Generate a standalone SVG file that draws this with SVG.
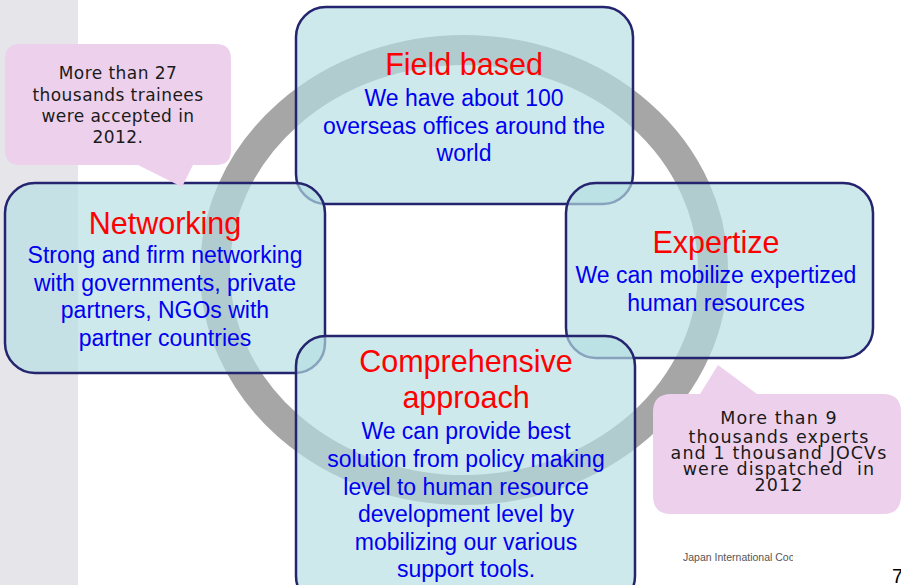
<svg xmlns="http://www.w3.org/2000/svg" width="901" height="585" viewBox="0 0 901 585">
<defs>
<style>
.box{fill:rgb(182,223,227);fill-opacity:0.68;stroke:#25256f;stroke-width:2.5}
.call{fill:#edd1ec}
.title{font-family:"Liberation Sans",Arial,sans-serif;font-size:30.5px;fill:#ff0000;text-anchor:middle}
.body{font-family:"Liberation Sans",Arial,sans-serif;font-size:23px;fill:#0000f0;text-anchor:middle}
.ct{font-family:"DejaVu Sans",Verdana,sans-serif;fill:#1a1a1a;text-anchor:middle}
</style>
<clipPath id="clipJ"><rect x="600" y="540" width="193" height="30"/></clipPath>
</defs>
<rect x="0" y="0" width="901" height="585" fill="#ffffff"/>
<rect x="0" y="0" width="78" height="585" fill="#e6e5ea"/>
<g id="ring">
<ellipse cx="464" cy="270" rx="249" ry="220" fill="none" stroke="#a6a6a6" stroke-width="30"/>
</g>
<g id="field">
<rect class="box" x="296" y="7" width="337" height="197" rx="30" ry="30"/>
<text class="title" x="464" y="75">Field based</text>
<text class="body" x="464" y="106">We have about 100</text>
<text class="body" x="464" y="133.5">overseas offices around the</text>
<text class="body" x="464" y="161">world</text>
</g>
<g id="networking">
<rect class="box" x="5" y="183" width="320" height="190" rx="30" ry="30"/>
<text class="title" x="165" y="234">Networking</text>
<text class="body" x="165" y="263">Strong and firm networking</text>
<text class="body" x="165" y="290.5">with governments, private</text>
<text class="body" x="165" y="318">partners, NGOs with</text>
<text class="body" x="165" y="346">partner countries</text>
</g>
<g id="expertize">
<rect class="box" x="566" y="183" width="307" height="175" rx="30" ry="30"/>
<text class="title" x="716" y="253">Expertize</text>
<text class="body" x="716" y="283">We can mobilize expertized</text>
<text class="body" x="716" y="311">human resources</text>
</g>
<g id="comprehensive">
<rect class="box" x="296" y="336" width="339" height="270" rx="30" ry="30"/>
<text class="title" x="466" y="372">Comprehensive</text>
<text class="title" x="466" y="408">approach</text>
<text class="body" x="466" y="439">We can provide best</text>
<text class="body" x="466" y="467">solution from policy making</text>
<text class="body" x="466" y="494.5">level to human resource</text>
<text class="body" x="466" y="522">development level by</text>
<text class="body" x="466" y="549.5">mobilizing our various</text>
<text class="body" x="466" y="577">support tools.</text>
</g>
<g id="callout-trainees">
<path class="call" d="M20,44 H216 Q231,44 231,59 V150 Q231,165 216,165 H193 L182,187 L138,165 H20 Q5,165 5,150 V59 Q5,44 20,44 Z"/>
<text class="ct" font-size="17" letter-spacing="0.45" x="118" y="79">More than 27</text>
<text class="ct" font-size="17" letter-spacing="0.45" x="118" y="101">thousands trainees</text>
<text class="ct" font-size="17" letter-spacing="0.45" x="118" y="122">were accepted in</text>
<text class="ct" font-size="17" letter-spacing="0.45" x="118" y="143">2012.</text>
</g>
<g id="callout-experts">
<path class="call" d="M671,394 H700 L718,365 L757,394 H883 Q901,394 901,412 V496 Q901,514 883,514 H671 Q653,514 653,496 V412 Q653,394 671,394 Z"/>
<text class="ct" font-size="17.5" letter-spacing="1.1" x="779" y="424">More than 9</text>
<text class="ct" font-size="17.5" letter-spacing="1.1" x="779" y="443">thousands experts</text>
<text class="ct" font-size="17.5" letter-spacing="1.1" x="779" y="459">and 1 thousand JOCVs</text>
<text class="ct" font-size="17.5" letter-spacing="1.1" x="779" y="475" xml:space="preserve">were dispatched  in</text>
<text class="ct" font-size="17.5" letter-spacing="1.1" x="779" y="491">2012</text>
</g>
<g id="footer">
<text clip-path="url(#clipJ)" x="683" y="561" font-family="Liberation Sans,Arial,sans-serif" font-size="10.5" fill="#555555">Japan International Cooperation Agency</text>
<text x="892" y="583" font-family="Liberation Sans,Arial,sans-serif" font-size="20" fill="#000000">7</text>
</g>
</svg>
